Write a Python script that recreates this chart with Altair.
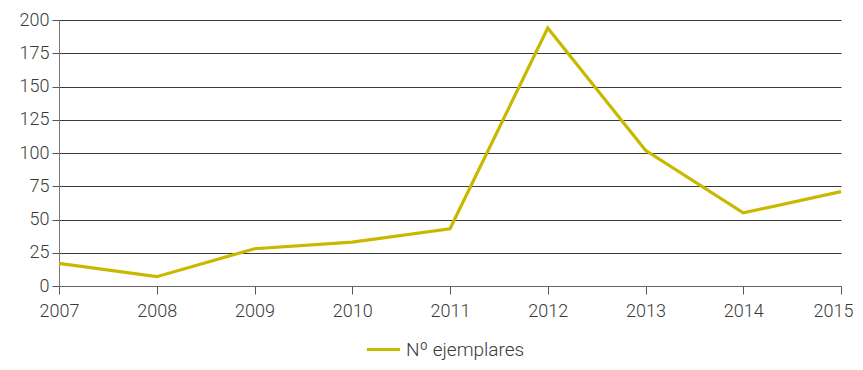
import altair as alt
import pandas as pd

years = [2007, 2008, 2009, 2010, 2011, 2012, 2013, 2014, 2015]
values = [17, 7, 28, 33, 43, 194, 102, 55, 71]
series = "Nº ejemplares"

df = pd.DataFrame({"year": years, "value": values, "serie": [series] * len(years)})

FONT = "Roboto"
TXT = "#3a3a3a"

chart = alt.Chart(df).mark_line(strokeWidth=3.2).encode(
    x=alt.X("year:Q",
            scale=alt.Scale(domain=[2007, 2015], nice=False, zero=False),
            axis=alt.Axis(values=years, format="d", title=None, grid=False,
                          tickSize=8, tickColor="#555", domainColor="#666",
                          labelFontSize=18, labelFontWeight=300, labelColor=TXT, labelFont=FONT,
                          labelPadding=8, labelFlush=False,
                          labelOffset=alt.condition("datum.value == 2015", alt.value(-8), alt.value(0)))),
    y=alt.Y("value:Q",
            scale=alt.Scale(domain=[0, 200], nice=False),
            axis=alt.Axis(values=[0, 25, 50, 75, 100, 125, 150, 175, 200], title=None,
                          grid=True, gridColor="#3a3a3a", gridWidth=1,
                          tickSize=7, tickColor="#555", domainColor="#777",
                          labelFontSize=18, labelFontWeight=300, labelColor=TXT, labelFont=FONT,
                          labelPadding=3)),
    color=alt.Color("serie:N",
                    scale=alt.Scale(domain=[series], range=["#C9B800"]),
                    legend=alt.Legend(title=None, orient="none", legendX=306, legendY=311,
                                      symbolType="stroke", symbolStrokeWidth=3.2,
                                      symbolSize=1100, labelFontSize=19, labelFontWeight=300,
                                      labelColor=TXT, labelFont=FONT, labelOffset=4)),
).properties(
    width=782, height=266,
    padding={"left": 51, "top": 12, "right": 14, "bottom": 76},
    autosize=alt.AutoSizeParams(type="none"),
).configure_view(stroke=None)

chart.save("out.html", embed_options={"renderer": "svg", "actions": False})
